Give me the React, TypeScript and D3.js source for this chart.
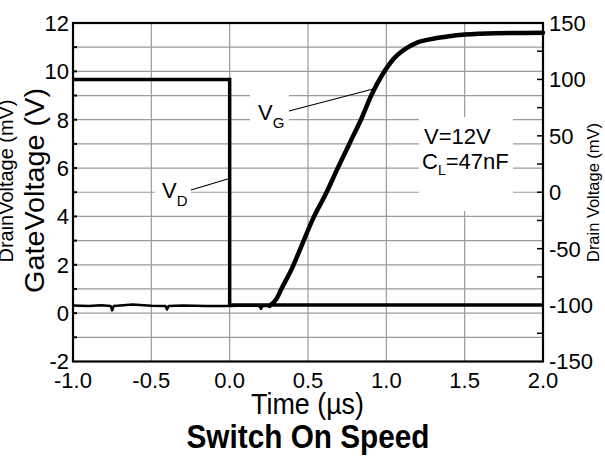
import React from "react";
import * as d3 from "d3";

// ---- data ----
const vgTime = [-1.0, -0.9, -0.82, -0.76, -0.75, -0.74, -0.62, -0.5, -0.41, -0.4, -0.39, -0.3, -0.15, 0.0, 0.1, 0.19, 0.2, 0.21, 0.255,
  0.3, 0.33, 0.394, 0.458, 0.53, 0.617, 0.69, 0.766, 0.84, 0.905, 0.98, 1.04, 1.126, 1.2, 1.3, 1.4, 1.5, 1.7, 2.0];
const vgValue = [0.32, 0.3, 0.33, 0.3, 0.12, 0.3, 0.36, 0.31, 0.3, 0.15, 0.3, 0.32, 0.3, 0.3, 0.32, 0.3, 0.18, 0.3, 0.3,
  0.6, 1.0, 1.8, 2.77, 3.88, 4.98, 6.0, 7.03, 8.03, 9.02, 9.92, 10.47, 10.95, 11.2, 11.35, 11.45, 11.52, 11.58, 11.6];

const vdTime = [-1.0, 0.0, 0.0, 2.0];
const vdValue = [100, 100, -100, -100];

const xTicks = [-1.0, -0.5, 0.0, 0.5, 1.0, 1.5, 2.0];
const xTickLabels = ["-1.0", "-0.5", "0.0", "0.5", "1.0", "1.5", "2.0"];
const leftTicks = [-2, 0, 2, 4, 6, 8, 10, 12];
const leftGrid = [-1, 0, 1, 2, 3, 4, 5, 6, 7, 8, 9, 10, 11];
const rightTicks = [-150, -100, -50, 0, 50, 100, 150];
const rightMinor = [-125, -100, -75, -50, -25, 0, 25, 50, 75, 100, 125];

const FONT = "'Liberation Sans', Arial, Helvetica, sans-serif";

export default function App() {
  const W = 605, H = 464;
  const L = 73, R = 543, T = 23, B = 361.5;
  const x = d3.scaleLinear().domain([-1, 2]).range([L, R]);
  const yL = d3.scaleLinear().domain([-2, 12]).range([B, T]);
  const yR = d3.scaleLinear().domain([-150, 150]).range([B, T]);

  const baseIdx = vgTime.findIndex((t) => t >= 0.255);
  const vgBase = vgTime.slice(0, baseIdx + 1).map((t, i) => [t, vgValue[i]] as [number, number]);
  const vgRise = vgTime.slice(baseIdx).map((t, i) => [t, vgValue[baseIdx + i]] as [number, number]);

  const lineL = d3.line<[number, number]>().x((d) => x(d[0])).y((d) => yL(d[1]));
  const lineLSmooth = d3.line<[number, number]>().x((d) => x(d[0])).y((d) => yL(d[1])).curve(d3.curveMonotoneX);
  const vdPts = vdTime.map((t, i) => [t, vdValue[i]] as [number, number]);
  const lineR = d3.line<[number, number]>().x((d) => x(d[0])).y((d) => yR(d[1]));

  const xGrid = [-0.5, 0, 0.5, 1.0, 1.5];

  return (
    <svg width={W} height={H} style={{ position: "absolute", left: 0, top: 0, background: "#fff" }} fontFamily={FONT}>
      <rect x={0} y={0} width={W} height={H} fill="#fff" />
      {/* grid */}
      <g stroke="#9a9a9a" strokeWidth={1.2}>
        {leftGrid.map((v) => (
          <line key={"h" + v} x1={L} x2={R} y1={yL(v)} y2={yL(v)} />
        ))}
        {xGrid.map((v) => (
          <line key={"v" + v} x1={x(v)} x2={x(v)} y1={T} y2={B} />
        ))}
      </g>
      {/* white label boxes */}
      <rect x={250} y={82} width={39} height={47} fill="#fff" />
      <rect x={155} y={176} width={36} height={34} fill="#fff" />
      <rect x={419} y={117} width={94} height={94} fill="#fff" />

      {/* traces */}
      <path d={lineL(vgBase) || ""} fill="none" stroke="#000" strokeWidth={2.5} strokeLinejoin="round" />
      <path d={lineLSmooth(vgRise) || ""} fill="none" stroke="#000" strokeWidth={4.5} strokeLinecap="round" strokeLinejoin="round" />
      <path d={lineR(vdPts) || ""} fill="none" stroke="#000" strokeWidth={3.5} strokeLinejoin="miter" />

      {/* leader lines */}
      <line x1={289} y1={111} x2={375} y2={88.5} stroke="#000" strokeWidth={1.1} />
      <line x1={191} y1={190} x2={231} y2={178} stroke="#000" strokeWidth={1.1} />

      {/* frame */}
      <rect x={L} y={T} width={R - L} height={B - T} fill="none" stroke="#000" strokeWidth={2.2} />
      {/* left ticks */}
      {leftGrid.map((v) => (
        <line key={"lt" + v} x1={L - 1} x2={L + 4} y1={yL(v)} y2={yL(v)} stroke="#000" strokeWidth={2} />
      ))}
      {/* right minor ticks */}
      {rightMinor.map((v) => (
        <line key={"rt" + v} x1={R - 6} x2={R} y1={yR(v)} y2={yR(v)} stroke="#000" strokeWidth={1.5} />
      ))}

      {/* tick labels */}
      <g fontSize={22} fill="#000">
        {leftTicks.map((v) => (
          <text key={"ll" + v} x={69} y={yL(v)} dy="0.36em" textAnchor="end">{String(v)}</text>
        ))}
        {rightTicks.map((v) => (
          <text key={"rl" + v} x={549} y={yR(v)} dy="0.36em" textAnchor="start">{String(v)}</text>
        ))}
        {xTicks.map((v, i) => (
          <text key={"xl" + v} x={x(v)} y={388} textAnchor="middle">{xTickLabels[i]}</text>
        ))}
      </g>

      {/* axis titles */}
      <text x={307.5} y={414} fontSize={30} textAnchor="middle" textLength={113} lengthAdjust="spacingAndGlyphs">Time (µs)</text>
      <text x={308} y={448} fontSize={34} fontWeight="bold" textAnchor="middle" textLength={243} lengthAdjust="spacingAndGlyphs">Switch On Speed</text>
      <text transform="translate(44,190.5) rotate(-90)" fontSize={28} textAnchor="middle" textLength={205} lengthAdjust="spacingAndGlyphs">GateVoltage (V)</text>
      <text transform="translate(13,181) rotate(-90)" fontSize={20} textAnchor="middle" textLength={163} lengthAdjust="spacingAndGlyphs">DrainVoltage (mV)</text>
      <text transform="translate(599,192.5) rotate(-90)" fontSize={16} textAnchor="middle" textLength={139} lengthAdjust="spacingAndGlyphs">Drain Voltage (mV)</text>

      {/* annotations */}
      <text x={258} y={120} fontSize={22}>V<tspan fontSize={15} dy={8}>G</tspan></text>
      <text x={162} y={198} fontSize={22}>V<tspan fontSize={15} dy={8}>D</tspan></text>
      <text x={424} y={143.5} fontSize={22}>V=12V</text>
      <text x={422} y={169} fontSize={22}>C<tspan fontSize={14} dy={6}>L</tspan><tspan dy={-6}>=47nF</tspan></text>
    </svg>
  );
}
